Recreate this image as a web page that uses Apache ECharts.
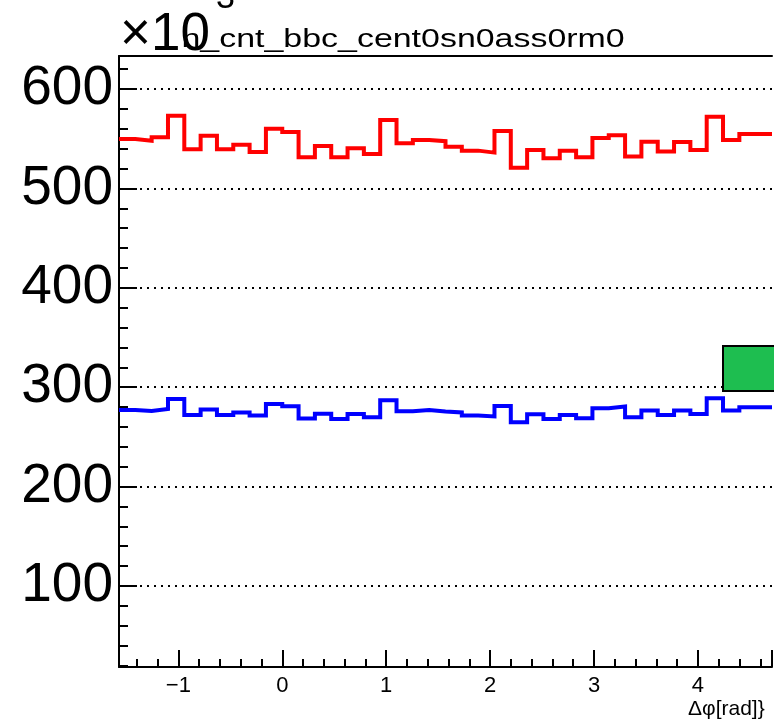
<!DOCTYPE html>
<html>
<head>
<meta charset="utf-8">
<script src="https://cdn.jsdelivr.net/npm/echarts@6/dist/echarts.min.js"></script>
<style>
html,body{margin:0;padding:0;background:#fff;}
#chart{width:774px;height:720px;}
</style>
</head>
<body>
<div id="chart"></div>
<script>
// Histogram binning: 40 bins over [-pi/2, 3pi/2]
const nBins = 40;
const xLow = -Math.PI / 2;
const xHigh = 3 * Math.PI / 2;

// Counts (x10^3)
const redCounts = [549.7, 548, 551.4, 573.1, 539.3, 553, 539.3, 544, 536.6, 560,
  556.7, 531.3, 542.7, 531.3, 540.3, 534.6, 568.8, 545.4, 548.7, 547.5,
  542, 538, 536, 557.7, 520.8, 538.6, 530.3, 538, 531.3, 550.7,
  553.4, 532, 547, 537, 546.7, 538.6, 572, 548.7, 554.7, 554.7];
const blueCounts = [277, 276, 278, 288, 272, 277.5, 272, 274.5, 271.5, 283,
  280.8, 268.4, 273.4, 268, 273, 269.7, 286.8, 275.8, 277, 275.5,
  274.6, 271.5, 270.6, 281, 264.7, 272.7, 268, 272, 268.7, 278.8,
  280.5, 269.7, 276.5, 272, 276.5, 273, 288.8, 276.5, 279.9, 279.9];

const titleText = 'h_cnt_bbc_cent0sn0ass0rm0';
const xTitle = 'Δφ[rad]}';
const yMin = 18.5, yMax = 633.2;

function histPoints(vals) {
  const w = (xHigh - xLow) / vals.length;
  const pts = vals.map((v, i) => [xLow + i * w, v]);
  pts.push([xHigh, vals[vals.length - 1]]);
  return pts;
}

const chart = echarts.init(document.getElementById('chart'), null, {renderer: 'canvas'});
const font = 'Liberation Sans, Arial, Helvetica, sans-serif';

chart.setOption({
  animation: false,
  backgroundColor: '#ffffff',
  grid: {left: 119, right: 2, top: 56, bottom: 53, containLabel: false},
  xAxis: [{
    type: 'value', min: xLow, max: xHigh, position: 'bottom',
    axisLine: {show: true, onZero: false, lineStyle: {color: '#000', width: 2}},
    axisTick: {show: true, inside: true, length: 17, lineStyle: {color: '#000', width: 2}},
    minorTick: {show: true, splitNumber: 5, length: 8, lineStyle: {color: '#000', width: 2}},
    axisLabel: {show: true, color: '#000', fontSize: 22, fontFamily: font, margin: 8,
      showMinLabel: false, showMaxLabel: false,
      formatter: v => (v < 0 ? '\u2212' + Math.abs(v) : String(v))},
    splitLine: {show: false}
  }, {
    type: 'value', min: xLow, max: xHigh, position: 'top',
    axisLine: {show: true, onZero: false, lineStyle: {color: '#000', width: 2}},
    axisTick: {show: false}, axisLabel: {show: false}, splitLine: {show: false}
  }],
  yAxis: {
    type: 'value', min: yMin, max: yMax,
    axisLine: {show: true, onZero: false, lineStyle: {color: '#000', width: 2}},
    axisTick: {show: true, inside: true, length: 18, lineStyle: {color: '#000', width: 2}},
    minorTick: {show: true, splitNumber: 5, length: 9, lineStyle: {color: '#000', width: 2}},
    axisLabel: {show: true, color: '#000', fontSize: 55, fontFamily: font, margin: 6,
      showMinLabel: false, showMaxLabel: false},
    splitLine: {show: true, showMinLine: false, showMaxLine: false,
      lineStyle: {color: '#000', width: 2, type: [2, 5]}}
  },
  series: [{
    type: 'line', step: 'end', showSymbol: false, symbol: 'none',
    data: histPoints(redCounts),
    lineStyle: {color: '#ff0000', width: 4, join: 'miter', cap: 'butt'}, z: 3
  }, {
    type: 'line', step: 'end', showSymbol: false, symbol: 'none',
    data: histPoints(blueCounts),
    lineStyle: {color: '#0000ff', width: 4, join: 'miter', cap: 'butt'}, z: 3
  }],
  graphic: [
    {type: 'text', x: 216, y: -1, z: 10,
      style: {text: '3', fontSize: 34, fontFamily: font, fill: '#000', textVerticalAlign: 'middle'}},
    {type: 'text', x: 120, y: 35, z: 10,
      style: {text: '\u00d710', fontSize: 53, fontFamily: font, fill: '#000', textVerticalAlign: 'middle'}},
    {type: 'text', x: 181.5, y: 40, scaleX: 1.357, z: 11,
      style: {text: titleText, fontSize: 25, fontFamily: font, fill: '#000', textVerticalAlign: 'middle'}},
    {type: 'text', x: 688, y: 709, z: 10,
      style: {text: xTitle, fontSize: 21, fontFamily: font, fill: '#000', textVerticalAlign: 'middle'}},
    {type: 'rect', z: 20, shape: {x: 723, y: 346, width: 70, height: 45},
      style: {fill: '#1ebe50', stroke: '#000', lineWidth: 2}}
  ]
});
</script>
</body>
</html>
